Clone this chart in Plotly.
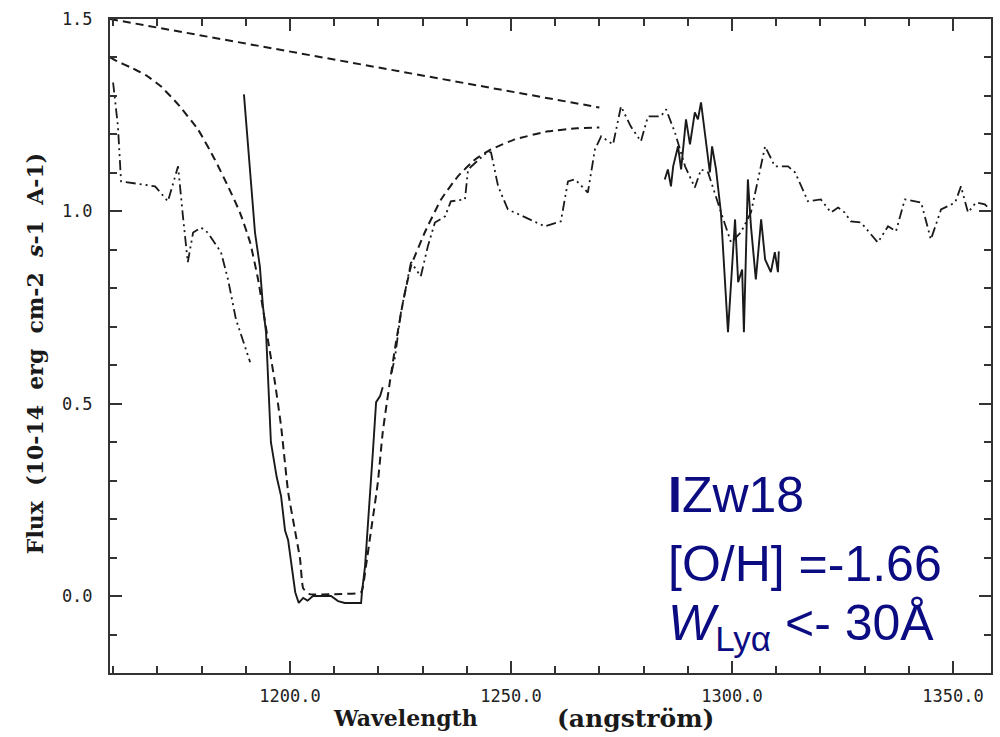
import plotly.graph_objects as go

# ---------------- data ----------------
# straight dashed continuum
cont_x = [1159.3, 1270.0]
cont_y = [1.50, 1.27]

# dashed damped-Lya profile fit
fit_x = [1159.3, 1160.6, 1164.0, 1167.4, 1170.8, 1174.7, 1179.2, 1183.0, 1186.0,
         1188.7, 1191.0, 1192.8, 1195.0, 1196.6, 1198.0, 1199.6, 1201.0, 1202.3,
         1203.0, 1204.5, 1210.0, 1216.1, 1217.2, 1218.3, 1219.9, 1221.0, 1222.6,
         1224.0, 1225.6, 1227.4, 1230.5, 1234.2, 1238.0, 1241.9, 1245.5, 1250.9,
         1258.4, 1265.0, 1270.0]
fit_y = [1.400, 1.392, 1.374, 1.354, 1.325, 1.278, 1.213, 1.135, 1.065,
         0.997, 0.919, 0.823, 0.668, 0.556, 0.442, 0.270, 0.180, 0.096,
         0.020, 0.005, 0.005, 0.010, 0.078, 0.166, 0.296, 0.426, 0.556,
         0.660, 0.765, 0.858, 0.945, 1.031, 1.091, 1.135, 1.161, 1.187,
         1.208, 1.216, 1.218]

# solid observed spectrum (two pieces)
obs_x = [1189.6, 1192.1, 1193.2, 1193.9, 1194.6, 1195.7, 1197.0, 1198.0, 1198.9,
         1199.6, 1201.2, 1202.0, 1203.0, 1204.0, 1205.2, 1206.3, 1207.9, 1209.3,
         1210.9, 1212.4, 1216.1, 1216.3, 1217.0, 1218.1, 1218.8, 1219.5, 1220.4,
         1221.0,
         None,
         1284.8, 1285.5, 1286.2, 1286.7, 1287.8, 1288.5, 1289.6, 1290.5, 1291.6,
         1292.3, 1293.0, 1294.1, 1295.0, 1295.5, 1296.4, 1297.5, 1299.1, 1300.7,
         1301.4, 1302.3, 1302.7, 1303.6, 1304.3, 1305.4, 1306.6, 1307.5, 1308.8,
         1309.7, 1310.4, 1310.6]
obs_y = [1.304, 0.945, 0.857, 0.753, 0.686, 0.400, 0.310, 0.260, 0.170,
         0.145, 0.010, -0.018, -0.005, -0.012, 0.000, 0.000, 0.000, 0.000,
         -0.013, -0.018, -0.018, 0.010, 0.078, 0.252, 0.380, 0.504, 0.520,
         0.543,
         None,
         1.083, 1.109, 1.065, 1.117, 1.169, 1.109, 1.239, 1.174, 1.257,
         1.239, 1.283, 1.187, 1.101, 1.169, 1.109, 0.997, 0.686, 0.979,
         0.816, 0.849, 0.686, 1.083, 0.961, 0.823, 0.979, 0.875, 0.842,
         0.894, 0.842, 0.896]

# dash-dot-dot comparison spectrum (two pieces)
cmp_x = [1160.0, 1161.1, 1161.8, 1169.5, 1172.4, 1174.7, 1175.8, 1176.9, 1178.1,
         1179.9, 1181.4, 1184.4, 1186.0, 1187.8, 1191.0,
         None,
         1223.0, 1223.8, 1225.1, 1226.7, 1227.4, 1229.6, 1231.2, 1232.8, 1235.1,
         1236.4, 1239.6, 1240.3, 1244.8, 1245.5, 1247.1, 1249.3, 1253.2, 1257.7,
         1261.3, 1262.9, 1264.5, 1267.4, 1269.0, 1270.4, 1273.1, 1274.9, 1277.1,
         1279.4, 1281.0, 1283.9, 1285.1, 1287.1, 1289.4, 1291.6, 1293.0, 1294.6,
         1297.3, 1299.8, 1302.0, 1304.3, 1307.5, 1309.7, 1312.7, 1314.3, 1317.2,
         1320.1, 1322.4, 1324.0, 1325.5, 1326.9, 1329.2, 1333.0, 1335.3, 1337.1,
         1339.1, 1342.8, 1345.0, 1347.3, 1350.5, 1351.8, 1353.4, 1355.2, 1357.2,
         1358.4]
cmp_y = [1.335, 1.221, 1.078, 1.065, 1.026, 1.117, 0.987, 0.868, 0.945,
         0.958, 0.945, 0.894, 0.823, 0.719, 0.608,
         None,
         0.580, 0.623, 0.737, 0.823, 0.868, 0.831, 0.909, 0.971, 0.987,
         1.026, 1.031, 1.109, 1.156, 1.153, 1.065, 1.005, 0.984, 0.961,
         0.974, 1.078, 1.083, 1.049, 1.161, 1.195, 1.174, 1.273, 1.221,
         1.182, 1.247, 1.247, 1.265, 1.205, 1.117, 1.062, 1.109, 1.101,
         1.005, 0.919, 0.945, 0.997, 1.169, 1.117, 1.117, 1.101, 1.026,
         1.031, 0.997, 1.010, 0.997, 0.974, 0.971, 0.919, 0.961, 0.948,
         1.031, 1.023, 0.927, 1.005, 1.023, 1.065, 0.997, 1.023, 1.018,
         1.005]

x_ticks = [1200, 1250, 1300, 1350]
x_tick_labels = ["1200.0", "1250.0", "1300.0", "1350.0"]
y_ticks = [0.0, 0.5, 1.0, 1.5]
y_tick_labels = ["0.0", "0.5", "1.0", "1.5"]

# ---------------- figure ----------------
INK = "#1a1a1a"
fig = go.Figure()
fig.add_trace(go.Scatter(x=cont_x, y=cont_y, mode="lines",
                         line=dict(color=INK, width=2, dash="8px,5px"),
                         showlegend=False, hoverinfo="skip"))
fig.add_trace(go.Scatter(x=fit_x, y=fit_y, mode="lines",
                         line=dict(color=INK, width=2, dash="8px,5px", shape="spline", smoothing=0.4),
                         showlegend=False, hoverinfo="skip"))
fig.add_trace(go.Scatter(x=cmp_x, y=cmp_y, mode="lines", connectgaps=False,
                         line=dict(color=INK, width=1.8, dash="10px,4px,2px,4px,2px,4px"),
                         showlegend=False, hoverinfo="skip"))
fig.add_trace(go.Scatter(x=obs_x, y=obs_y, mode="lines", connectgaps=False,
                         line=dict(color=INK, width=1.9),
                         showlegend=False, hoverinfo="skip"))

AX = "#333333"
tickfont = dict(family="DejaVu Sans Mono", size=17, color="#222222")
fig.update_xaxes(range=[1159.3, 1358.6], tickvals=x_ticks, ticktext=x_tick_labels,
                 ticks="inside", ticklen=12, tickwidth=1.5, tickcolor=AX,
                 minor=dict(dtick=10, tick0=1200, ticks="inside", ticklen=7,
                            tickwidth=1.5, tickcolor=AX, showgrid=False),
                 showline=True, linecolor=AX, linewidth=2, mirror="allticks",
                 showgrid=False, zeroline=False, tickfont=tickfont,
                 ticklabelstandoff=7)
fig.update_yaxes(range=[-0.2, 1.5], tickvals=y_ticks, ticktext=y_tick_labels,
                 ticks="inside", ticklen=12, tickwidth=1.5, tickcolor=AX,
                 minor=dict(dtick=0.1, tick0=0, ticks="inside", ticklen=7,
                            tickwidth=1.5, tickcolor=AX, showgrid=False),
                 showline=True, linecolor=AX, linewidth=2, mirror="allticks",
                 showgrid=False, zeroline=False, tickfont=tickfont,
                 ticklabelstandoff=12)

L, R, T, B = 110, 7, 19, 64
W, H = 1000, 737
pw, ph = W - L - R, H - T - B

def px(xp):
    return (xp - L) / pw

def py(yp):
    return (H - B - yp) / ph

navy = "#0c0c82"
big = dict(family="Liberation Sans", size=50, color=navy)

annotations = [
    dict(text="<b>Wavelength</b>", x=px(406), y=py(718), xref="paper", yref="paper",
         showarrow=False, xanchor="center", yanchor="middle",
         font=dict(family="DejaVu Serif", size=22, color="#1a1a1a")),
    dict(text="<b>(angström)</b>", x=px(637), y=py(718), xref="paper", yref="paper",
         showarrow=False, xanchor="center", yanchor="middle",
         font=dict(family="DejaVu Serif", size=25, color="#1a1a1a")),
    dict(text="<b>Flux  (10-14  erg  cm-2  <i>s</i>-1  A-1)</b>", x=px(35), y=py(354),
         xref="paper", yref="paper", showarrow=False, textangle=-90,
         xanchor="center", yanchor="middle",
         font=dict(family="DejaVu Serif", size=22, color="#1a1a1a")),
    dict(text="<b>I</b>Zw18", x=px(667), y=py(495), xref="paper", yref="paper",
         showarrow=False, xanchor="left", yanchor="middle", font=big),
    dict(text="[O/H] =-1.66", x=px(667), y=py(564), xref="paper", yref="paper",
         showarrow=False, xanchor="left", yanchor="middle", font=big),
    dict(text="<i>W</i><sub>Lyα</sub> &lt;- 30Å", x=px(667), y=py(626), xref="paper", yref="paper",
         showarrow=False, xanchor="left", yanchor="middle", font=big),
]

fig.update_layout(width=W, height=H, margin=dict(l=L, r=R, t=T, b=B),
                  paper_bgcolor="white", plot_bgcolor="white",
                  annotations=annotations, showlegend=False)

fig.write_html("out.html")
